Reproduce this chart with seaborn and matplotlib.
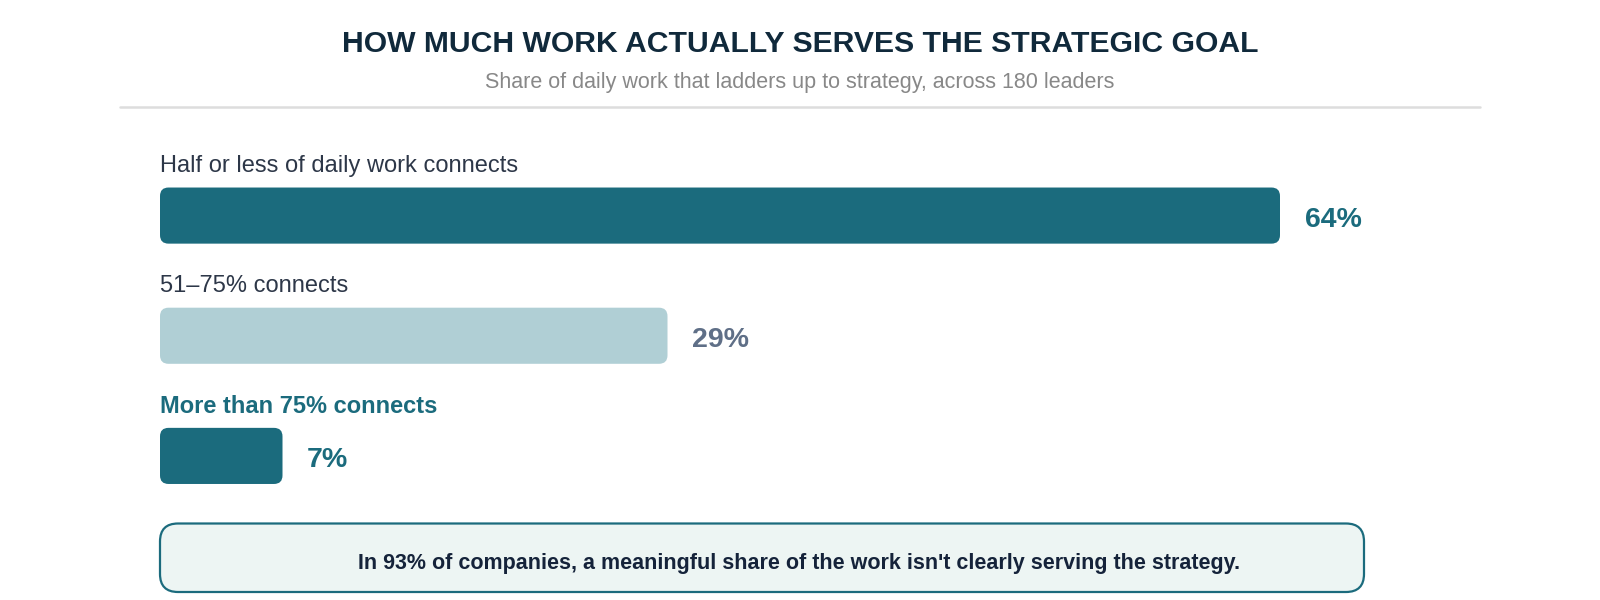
import matplotlib
matplotlib.use("Agg")
import pandas as pd
import seaborn as sns
import matplotlib.pyplot as plt
from matplotlib.patches import FancyBboxPatch
from matplotlib.lines import Line2D

# data
categories = ["Half or less of daily work connects", "51\u201375% connects", "More than 75% connects"]
shares = [64, 29, 7]
value_labels = ["64%", "29%", "7%"]

title = "HOW MUCH WORK ACTUALLY SERVES THE STRATEGIC GOAL"
subtitle = "Share of daily work that ladders up to strategy, across 180 leaders"
callout = "In 93% of companies, a meaningful share of the work isn't clearly serving the strategy."

TEAL = "#1b6b7d"
LIGHT = "#b0cfd5"
SLATE = "#5f6f87"
DARK = "#2d3748"

bar_colors = [TEAL, LIGHT, TEAL]
value_colors = [TEAL, SLATE, TEAL]
label_colors = [DARK, DARK, TEAL]
label_weights = ["normal", "normal", "bold"]

sns.set_theme(style="white")
plt.rcParams["font.family"] = ["Liberation Sans", "DejaVu Sans"]

W, H = 1600, 600
fig = plt.figure(figsize=(W / 100, H / 100), dpi=100)
fig.patch.set_facecolor("white")

# axes: bars start at x=160px, the 64% bar ends at ~1280px
ax = fig.add_axes([160 / W, 1 - 516 / H, 1120 / W, 360.5 / H])
df = pd.DataFrame({"category": categories, "share": shares})
sns.barplot(data=df, x="share", y="category", orient="h", width=0.467,
            palette=bar_colors, hue="category", legend=False, saturation=1, ax=ax)
ax.set_xlim(0, max(shares))
ax.set_ylim(len(categories) - 0.5, -0.5)
ax.axis("off")

# swap bars for rounded ones (in pixel space)
fig.canvas.draw()
for p in list(ax.patches):
    x0, y0 = ax.transData.transform((p.get_x(), p.get_y()))
    x1, y1 = ax.transData.transform((p.get_x() + p.get_width(), p.get_y() + p.get_height()))
    xa, xb = sorted([x0, x1])
    ya, yb = sorted([y0, y1])
    fig.patches.append(FancyBboxPatch((xa, ya), xb - xa, yb - ya,
                                      boxstyle="round,pad=0,rounding_size=8.5",
                                      facecolor=p.get_facecolor(), edgecolor="none",
                                      transform=None, figure=fig))
    p.set_visible(False)

for i, (cat, val) in enumerate(zip(categories, shares)):
    ax.text(0, i - 0.412, cat, ha="left", va="center", fontsize=17,
            color=label_colors[i], fontweight=label_weights[i], clip_on=False)
    ax.annotate(value_labels[i], (val, i), xytext=(24.5, -4), textcoords="offset pixels",
                ha="left", va="center", fontsize=20.5, fontweight="bold",
                color=value_colors[i], annotation_clip=False)

# header
fig.text(800 / W, 1 - 44.5 / H, title, ha="center", va="center", fontsize=21.7,
         fontweight="bold", color="#10293b")
fig.text(800 / W, 1 - 82.5 / H, subtitle, ha="center", va="center", fontsize=15.5,
         color="#888888")
fig.add_artist(Line2D([120 / W, 1480 / W], [1 - 107 / H, 1 - 107 / H],
                      color="#dddddd", linewidth=1.8))

# callout box
fig.patches.append(FancyBboxPatch((160, H - 592), 1204, 68.5,
                                  boxstyle="round,pad=0,rounding_size=18",
                                  facecolor="#edf5f3", edgecolor=TEAL, linewidth=1.6,
                                  transform=None, figure=fig))
fig.text(799 / W, 1 - 563 / H, callout, ha="center", va="center", fontsize=15.5,
         fontweight="bold", color="#15233a")

fig.savefig("out.png", dpi=100, facecolor="white")
